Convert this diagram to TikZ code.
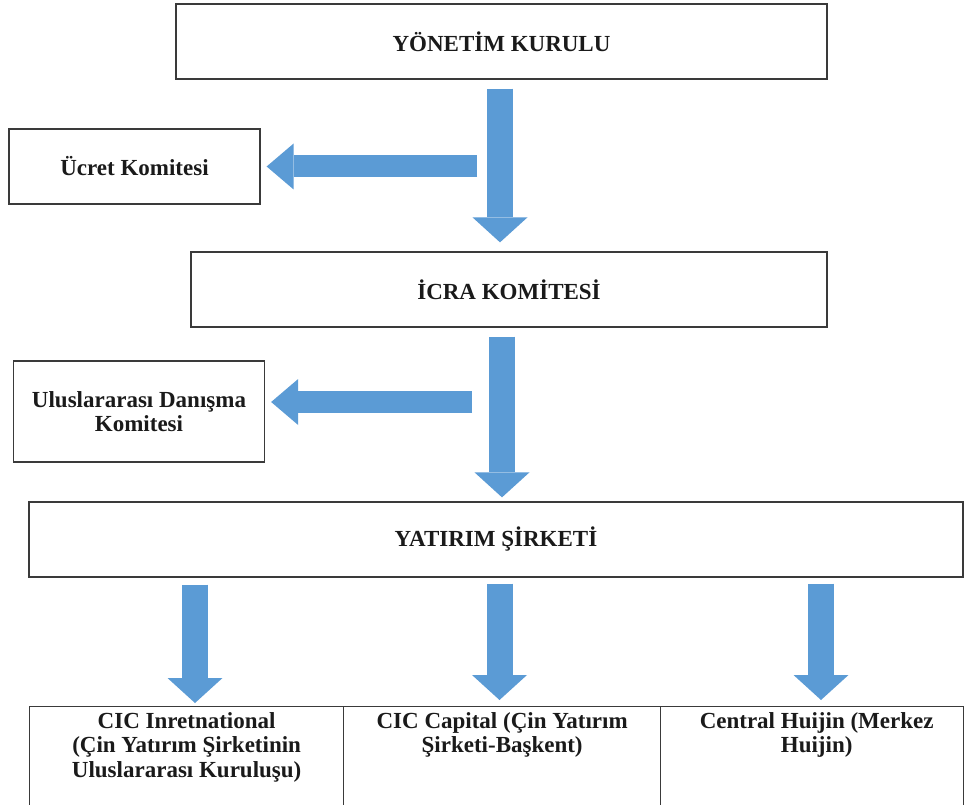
\documentclass[tikz,border=0pt]{standalone}
\usepackage{fontspec}
\setmainfont{Liberation Serif}
\usetikzlibrary{arrows.meta}
\definecolor{arrowblue}{HTML}{5B9BD5}
\definecolor{boxline}{HTML}{3A3A3A}
\definecolor{txt}{HTML}{1A1A1A}
\begin{document}
\begin{tikzpicture}[x=1pt,y=-1pt,
  box/.style={draw=boxline, line width=1.3pt, fill=white, inner sep=0pt, align=center, text=txt, font=\fontsize{23}{24}\selectfont\bfseries},
  lbl/.style={inner sep=0pt, align=center, text=txt, font=\fontsize{23}{24.5}\selectfont\bfseries},
  varrow/.style={draw=arrowblue, line width=26pt, -{Triangle[width=55pt,length=25pt,line width=0pt]}},
  harrow/.style={draw=arrowblue, line width=22pt, -{Triangle[width=46pt,length=27pt,line width=0pt]}},
]
\fill[white] (0,0) rectangle (964,805);
\useasboundingbox (0,0) rectangle (964,805);

% boxes
\node[box, minimum width=651pt, minimum height=75pt] (yk) at (501.5,41.5) {YÖNETİM KURULU};
\node[box, minimum width=251pt, minimum height=75pt] (ucret) at (134.5,166.5) {Ücret Komitesi};
\node[box, minimum width=636pt, minimum height=75pt] (icra) at (509,289.5) {İCRA KOMİTESİ};
\node[box, minimum width=251pt, minimum height=101pt] (ulus) at (139,411.5) {Uluslararası Danışma\\Komitesi};
\node[box, minimum width=934pt, minimum height=75pt] (yat) at (496,539.5) {YATIRIM ŞİRKETİ};
\node[box, minimum width=314pt, minimum height=115pt, anchor=north west] (cici) at (29,706) {};
\node[box, minimum width=317pt, minimum height=115pt, anchor=north west] (cicc) at (343,706) {};
\node[box, minimum width=303pt, minimum height=115pt, anchor=north west] (ch) at (660,706) {};

\node[lbl, anchor=north] (t1) at ([yshift=-6pt]cici.north) {CIC Inretnational\\(Çin Yatırım Şirketinin\\Uluslararası Kuruluşu)};
\node[lbl, anchor=north] (t2) at ([yshift=-6pt]cicc.north) {CIC Capital (Çin Yatırım\\Şirketi-Başkent)};
\node[lbl, anchor=north] (t3) at ([yshift=-6pt,xshift=4.5pt]ch.north) {Central Huijin (Merkez\\Huijin)};

% arrow axes
\coordinate (a1) at (500,0);
\coordinate (h1) at (477,0);
\coordinate (a2) at (502,0);
\coordinate (h2) at (472,0);
\coordinate (a3) at (195,0);
\coordinate (a4) at (499.5,0);
\coordinate (a5) at (821,0);

% arrows
\draw[varrow, shorten <=9pt, shorten >=9pt] (yk.south -| a1) -- (icra.north -| a1);
\draw[harrow, shorten >=6pt] (ucret.east -| h1) -- (ucret.east);
\draw[varrow, shorten <=9pt, shorten >=4pt] (icra.south -| a2) -- (yat.north -| a2);
\draw[harrow, shorten >=6pt] ([yshift=9.5pt]ulus.east -| h2) -- ([yshift=9.5pt]ulus.east);
\draw[varrow, shorten <=7pt, shorten >=3pt] (yat.south -| a3) -- (cici.north -| a3);
\draw[varrow, shorten <=6pt, shorten >=6pt] (yat.south -| a4) -- (cicc.north -| a4);
\draw[varrow, shorten <=6pt, shorten >=6pt] (yat.south -| a5) -- (ch.north -| a5);
\end{tikzpicture}
\end{document}
